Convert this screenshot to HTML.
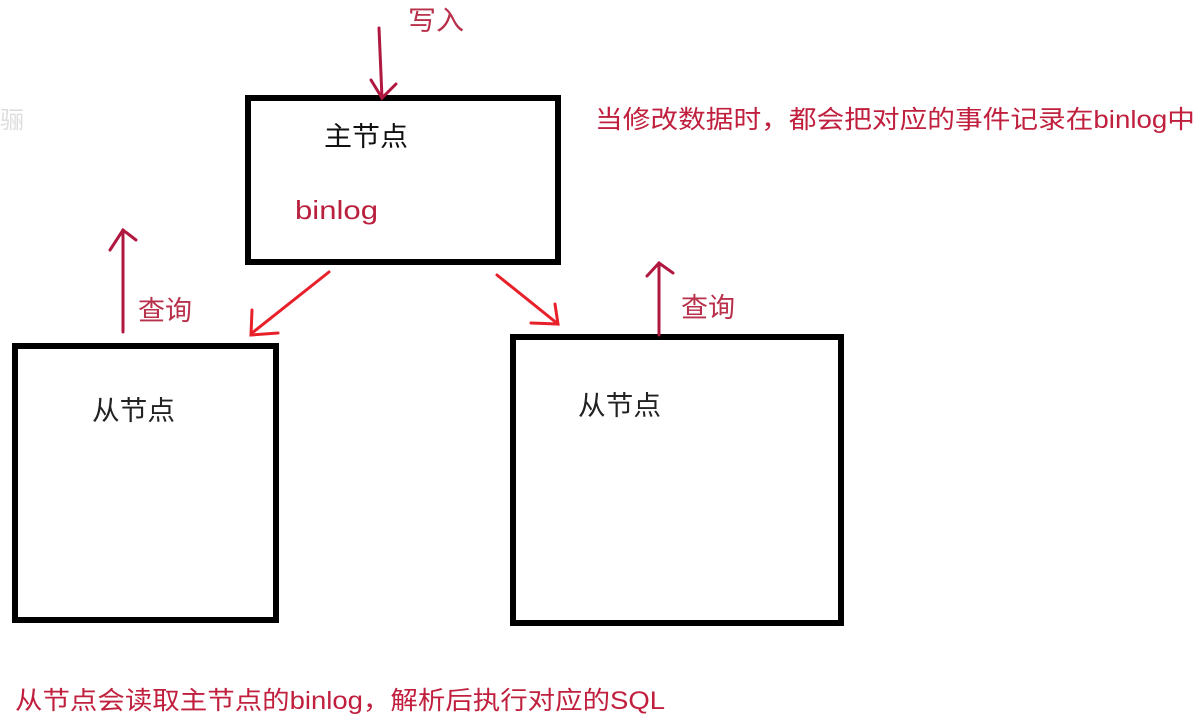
<!DOCTYPE html>
<html><head><meta charset="utf-8"><style>
html,body{margin:0;padding:0;background:#fff;}
svg{display:block}
text{font-family:"Liberation Sans","Noto Sans CJK SC",sans-serif;}
</style></head><body>
<svg width="1199" height="725" viewBox="0 0 1199 725" xmlns="http://www.w3.org/2000/svg">
<rect x="0" y="0" width="1199" height="725" fill="#fff"/>
<text x="0" y="128" font-size="24" fill="#ddd">骊</text>
<rect x="248" y="98" width="310" height="164" fill="none" stroke="#000" stroke-width="6"/>
<rect x="15" y="346" width="261" height="274" fill="none" stroke="#000" stroke-width="6"/>
<rect x="513" y="337" width="328" height="286" fill="none" stroke="#000" stroke-width="6"/>
<g stroke="#b01840" stroke-width="3" fill="none" stroke-linecap="round">
<line x1="379" y1="28" x2="382" y2="98"/>
<polyline points="371,80 382,98 396,84"/>
<line x1="123" y1="332" x2="123" y2="230"/>
<polyline points="110,250 123,230 136,240"/>
<line x1="659" y1="335" x2="659" y2="263"/>
<polyline points="647,276 659,263 673,273"/>
</g>
<g stroke="#e8202a" stroke-width="3" fill="none" stroke-linecap="round">
<line x1="329" y1="272" x2="252" y2="333"/>
<polyline points="252,310 251,335 278,333"/>
<line x1="497" y1="275" x2="558" y2="324"/>
<polyline points="531,323 558,324 555,304"/>
</g>
<text x="408" y="30" font-size="27" fill="#b8304a" textLength="56" lengthAdjust="spacingAndGlyphs">写入</text>
<text x="324" y="146" font-size="27" fill="#111" textLength="84" lengthAdjust="spacingAndGlyphs">主节点</text>
<text x="295" y="219" font-size="26" fill="#b8203e" textLength="83" lengthAdjust="spacingAndGlyphs">binlog</text>
<text x="138" y="320" font-size="27" fill="#b8304a" textLength="54" lengthAdjust="spacingAndGlyphs">查询</text>
<text x="681" y="317" font-size="27" fill="#b8304a" textLength="54" lengthAdjust="spacingAndGlyphs">查询</text>
<text x="92" y="420" font-size="27" fill="#222" textLength="83" lengthAdjust="spacingAndGlyphs">从节点</text>
<text x="578" y="415" font-size="27" fill="#222" textLength="83" lengthAdjust="spacingAndGlyphs">从节点</text>
<text x="595" y="128" font-size="25" fill="#c0203e" textLength="600" lengthAdjust="spacingAndGlyphs">当修改数据时，都会把对应的事件记录在binlog中</text>
<text x="15" y="709" font-size="25" fill="#c0203e" textLength="650" lengthAdjust="spacingAndGlyphs">从节点会读取主节点的binlog，解析后执行对应的SQL</text>
</svg>
</body></html>
